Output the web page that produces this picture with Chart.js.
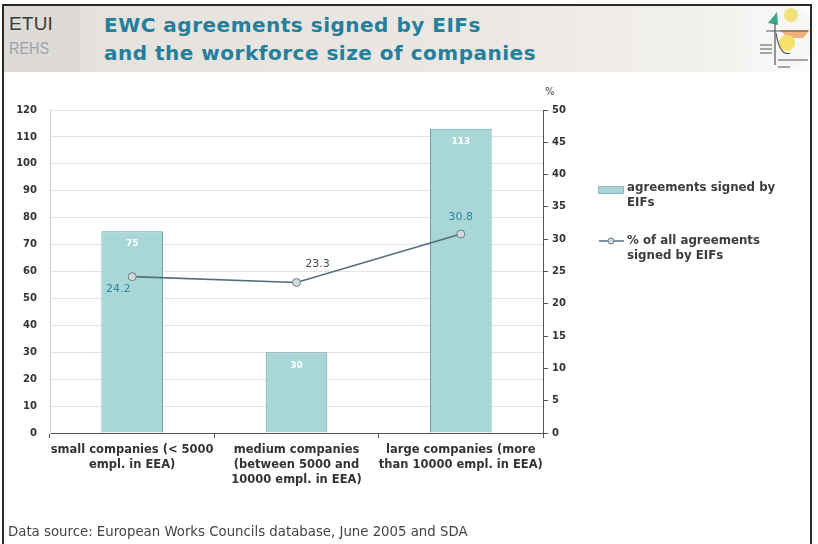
<!DOCTYPE html>
<html>
<head>
<meta charset="utf-8">
<script src="https://cdn.jsdelivr.net/npm/chart.js@4.4.1/dist/chart.umd.min.js"></script>
<style>
    body { margin: 0; background: #fff; font-family: "DejaVu Sans", Verdana, sans-serif; }
    #page { position: relative; width: 818px; height: 544px; overflow: hidden; background: #fff; }
    #frame { position: absolute; left: 2px; top: 4px; width: 810px; height: 560px; border: 2px solid #2a2a2a; box-sizing: border-box; }
    #header { position: absolute; left: 4px; top: 6px; width: 806px; height: 66px;
        background: linear-gradient(to right, #e4e0db 0%, #ebe8e4 60%, #f3f1ee 88%, #fbfbfa 100%); }
    #brand { position: absolute; left: 4px; top: 6px; width: 76px; height: 66px; background: #dedad5; }
    #etui { position: absolute; left: 9px; top: 13px; font-family: "Liberation Sans", Arial, sans-serif; font-size: 19px; color: #3a3a3a; letter-spacing: 0.2px; }
    #rehs { position: absolute; left: 9px; top: 39px; font-family: "Liberation Sans", Arial, sans-serif; font-size: 17px; color: #9aa6ad; transform: scaleX(0.85); transform-origin: left; }
    #title { position: absolute; left: 104px; top: 11px; font-size: 20px; font-weight: bold; color: #237f9b; line-height: 28px; letter-spacing: 0.5px; }
    #logo { position: absolute; left: 746px; top: 3px; }
    #pct { position: absolute; left: 545px; top: 86px; font-size: 10px; color: #444; }
    #chartBox { position: absolute; left: 0; top: 88px; width: 818px; height: 456px; }
    .leg { position: absolute; font-size: 11.8px; font-weight: bold; color: #3c3c3c; line-height: 15px; }
    #source { position: absolute; left: 8px; top: 524px; font-size: 13.3px; color: #444; }
</style>
</head>
<body>
<div id="page">
    <div id="header"></div>
    <div id="brand"></div>
    <div id="etui">ETUI</div>
    <div id="rehs">REHS</div>
    <div id="title">EWC agreements signed by EIFs<br>and the workforce size of companies</div>
    <svg id="logo" width="66" height="74" viewBox="0 0 66 74">
        <circle cx="36" cy="34" r="33" fill="#f6f6f4"/>
        <path d="M22 20 L31 9 L32 22 Z" fill="#3aa88e"/>
        <circle cx="45" cy="12" r="7" fill="#f1e27a"/>
        <path d="M34 27 L64 27 L57 35 L42 35 Z" fill="#f0b07a"/>
        <circle cx="41" cy="40" r="8" fill="#f4e06a"/>
        <path d="M20 28 L62 28 M29 20 L29 62 M14 42 L26 42 M14 46 L26 46 M14 50 L26 50 M32 57 L62 57 M32 64 L44 64"
              stroke="#555" stroke-width="1.2" fill="none"/>
        <path d="M30 30 Q34 54 44 50" stroke="#555" stroke-width="1.2" fill="none"/>
    </svg>
    <div id="pct">%</div>
    <div id="chartBox"><canvas id="ewcChart"></canvas></div>

    <div style="position:absolute;left:598px;top:186px;width:24px;height:6px;background:#a9d6d6;border:1px solid #8fb8bb;"></div>
    <div class="leg" style="left:627px;top:180px;">agreements signed by<br>EIFs</div>
    <svg style="position:absolute;left:598px;top:236px;" width="28" height="10">
        <line x1="1" y1="5" x2="26" y2="5" stroke="#4e6f7c" stroke-width="1.5"/>
        <circle cx="13" cy="5" r="3" fill="#d3dadd" stroke="#6c7f88" stroke-width="1"/>
    </svg>
    <div class="leg" style="left:627px;top:233px;">% of all agreements<br>signed by EIFs</div>

    <div id="source">Data source: European Works Councils database, June 2005 and SDA</div>
    <div id="frame"></div>
</div>

<script>
    const categories = [
        ['small companies (< 5000', 'empl. in EEA)'],
        ['medium companies', '(between 5000 and', '10000 empl. in EEA)'],
        ['large companies (more', 'than 10000 empl. in EEA)']
    ];
    const agreementsSigned = [75, 30, 113];
    const shareOfAgreements = [24.2, 23.3, 30.8];
    const leftTicks = { min: 0, max: 120, step: 10 };
    const rightTicks = { min: 0, max: 50, step: 5 };

    const FONT = '"DejaVu Sans", Verdana, sans-serif';

    // value labels: white inside the bar tops, next to the line points
    const valueLabels = {
        id: 'valueLabels',
        afterDatasetsDraw(chart) {
            const ctx = chart.ctx;
            ctx.save();
            ctx.textAlign = 'center';
            ctx.textBaseline = 'middle';

            const bars = chart.getDatasetMeta(1).data;
            ctx.font = 'bold 9px ' + FONT;
            ctx.fillStyle = '#ffffff';
            bars.forEach((bar, i) => {
                ctx.fillText(String(agreementsSigned[i]), bar.x, bar.y + 13);
            });

            const points = chart.getDatasetMeta(0).data;
            const offsets = [[-14, 12], [21, -18], [0, -17]];
            const colors = ['#2a86a2', '#4a4a4a', '#2a86a2'];
            ctx.font = '11px ' + FONT;
            points.forEach((pt, i) => {
                ctx.fillStyle = colors[i];
                ctx.fillText(shareOfAgreements[i].toFixed(1), pt.x + offsets[i][0], pt.y + offsets[i][1]);
            });
            ctx.restore();
        }
    };

    const ctx = document.getElementById('ewcChart').getContext('2d');
    new Chart(ctx, {
        data: {
            labels: categories,
            datasets: [{
                type: 'line',
                label: '% of all agreements signed by EIFs',
                data: shareOfAgreements,
                yAxisID: 'yRight',
                borderColor: '#4e6f7c',
                borderWidth: 1.6,
                pointRadius: 4,
                pointBackgroundColor: '#d3dadd',
                pointBorderColor: '#6c7f88',
                pointBorderWidth: 1,
                tension: 0,
                order: 0
            }, {
                type: 'bar',
                label: 'agreements signed by EIFs',
                data: agreementsSigned,
                yAxisID: 'yLeft',
                backgroundColor: '#a9d6d6',
                borderColor: '#6a9fa3',
                borderWidth: 1,
                barPercentage: 0.375,
                categoryPercentage: 1,
                order: 1
            }]
        },
        options: {
            responsive: true,
            maintainAspectRatio: false,
            animation: false,
            layout: { padding: { top: 22, left: 0, right: 0, bottom: 0 } },
            plugins: {
                legend: { display: false },
                tooltip: { enabled: false }
            },
            scales: {
                x: {
                    offset: true,
                    grid: {
                        offset: true,
                        drawOnChartArea: false,
                        tickLength: 5,
                        color: '#555'
                    },
                    border: { color: '#555', width: 1 },
                    ticks: {
                        color: '#333',
                        font: { family: FONT, size: 11.5, weight: 'bold', lineHeight: 1.3 },
                        maxRotation: 0,
                        autoSkip: false,
                        padding: 5
                    },
                    afterFit(scale) { scale.height = 111; }
                },
                yLeft: {
                    position: 'left',
                    min: leftTicks.min,
                    max: leftTicks.max,
                    ticks: {
                        stepSize: leftTicks.step,
                        color: '#333',
                        font: { family: FONT, size: 10, weight: 'bold' },
                        padding: 13
                    },
                    grid: { color: '#e4e4e4', drawTicks: false },
                    border: { color: '#d0d0d0' },
                    afterFit(scale) { scale.width = 50; }
                },
                yRight: {
                    position: 'right',
                    min: rightTicks.min,
                    max: rightTicks.max,
                    ticks: {
                        stepSize: rightTicks.step,
                        color: '#333',
                        font: { family: FONT, size: 10, weight: 'bold' },
                        padding: 4
                    },
                    grid: { drawOnChartArea: false, tickLength: 5, color: '#555' },
                    border: { color: '#555' },
                    afterFit(scale) { scale.width = 275; }
                }
            }
        },
        plugins: [valueLabels]
    });
</script>
</body>
</html>
